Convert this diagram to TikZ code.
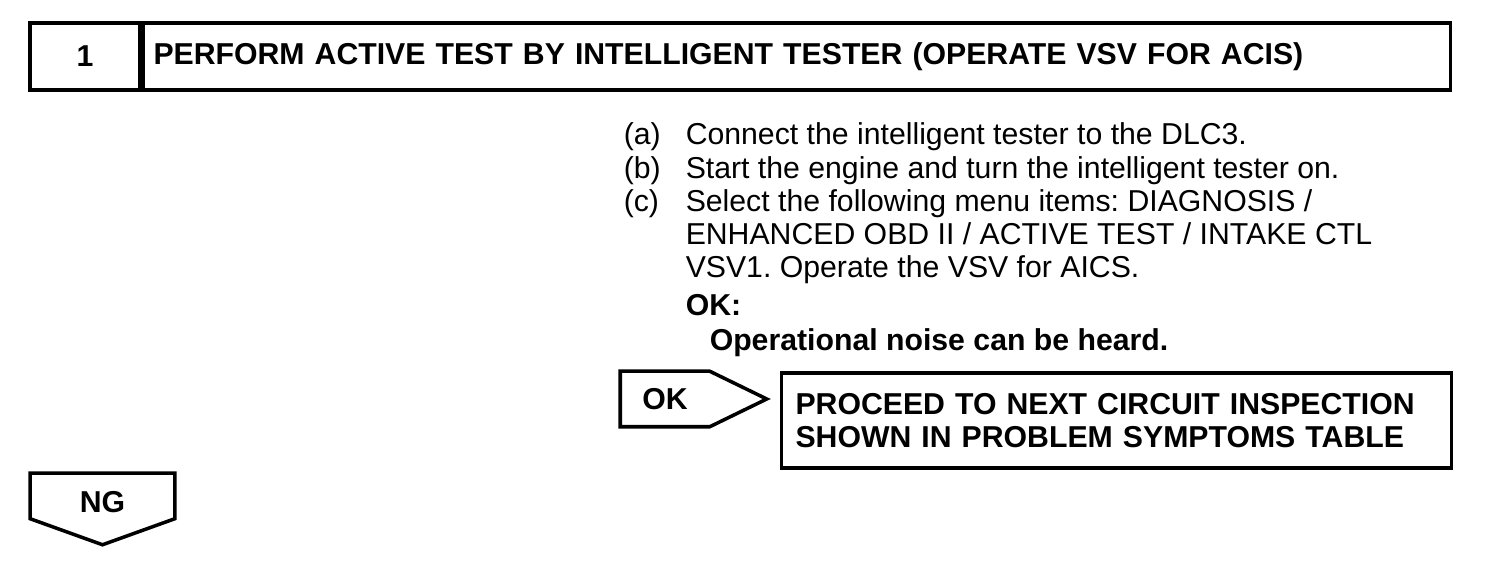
\documentclass[tikz,border=0pt]{standalone}
\usepackage{fontspec}
\setmainfont{Liberation Sans}
\usetikzlibrary{positioning,calc}
\frenchspacing

\begin{document}
\begin{tikzpicture}[line width=1pt,
        every node/.style={font=\fontsize{8.6}{9.4}\selectfont},
        box/.style={rectangle, draw, minimum height=0.67cm, inner sep=0pt, font=\fontsize{8.6}{9.4}\selectfont\bfseries},
        result/.style={rectangle, draw, text width=6.42cm, minimum height=0.95cm, inner xsep=0.14cm, align=left, font=\fontsize{8.6}{9.4}\selectfont\bfseries},
        tag/.style={rectangle, inner sep=0pt, font=\fontsize{8.6}{9.4}\selectfont\bfseries}]

        \useasboundingbox (0,0) rectangle (15.04,5.66);

        % step header
        \node[box, minimum width=1.10cm] (num) at (0.85,5.095) {1};
        \node[box, right=0pt of num, text width=12.87cm, inner xsep=0.1cm, align=left] (title) {PERFORM ACTIVE TEST BY INTELLIGENT TESTER (OPERATE VSV FOR ACIS)};

        % procedure
        \node[anchor=base west, inner sep=0pt] (steps) at (6.22,4.21) {\begin{tabular}[t]{@{}p{0.62cm}@{}l@{}}
            (a) & Connect the intelligent tester to the DLC3.\\
            (b) & Start the engine and turn the intelligent tester on.\\
            (c) & Select the following menu items: DIAGNOSIS /\\
                & ENHANCED OBD II / ACTIVE TEST / INTAKE CTL\\
                & VSV1. Operate the VSV for AICS.\\[1.4pt]
                & \textbf{OK:}\\[0.6pt]
                & \hspace{0.24cm}\textbf{Operational noise can be heard.}
        \end{tabular}};

        % OK branch
        \node[tag, minimum width=0.86cm, minimum height=0.52cm] (ok) at (6.65,1.67) {OK};
        \draw (ok.north west) -- (ok.north east) -- ($(ok.east)+(0.57,0)$) -- (ok.south east) -- (ok.south west) -- cycle;
        \node[result, right=0.70cm of ok.north east, anchor=north west] (next) {PROCEED TO NEXT CIRCUIT INSPECTION\\SHOWN IN PROBLEM SYMPTOMS TABLE};

        % NG branch
        \node[tag, minimum width=1.41cm, minimum height=0.55cm] (ng) at (1.025,0.635) {NG};
        \draw (ng.north west) -- (ng.north east) -- ($(ng.south east)+(0,0.13)$) -- ($(ng.south)+(0,-0.13)$) -- ($(ng.south west)+(0,0.13)$) -- cycle;
    \end{tikzpicture}
\end{document}
